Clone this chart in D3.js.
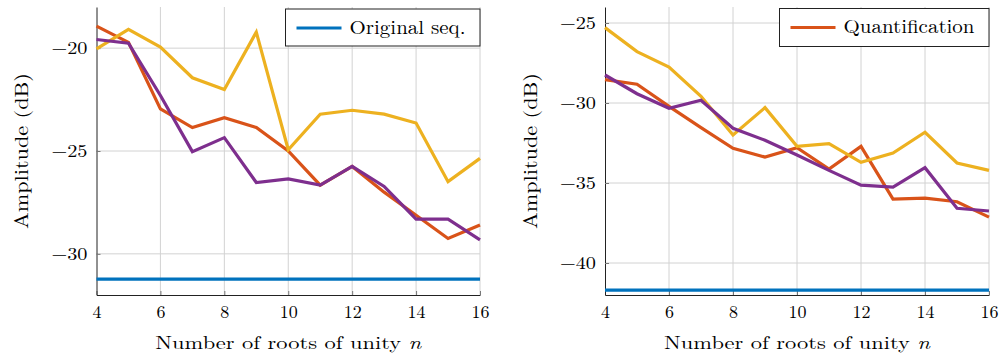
<!DOCTYPE html>
<html><head><meta charset="utf-8">
<script src="https://cdn.jsdelivr.net/npm/d3@7"></script>
<style>
html,body{margin:0;padding:0;background:#fff;}
text{font-family:"Latin Modern Roman","CMU Serif","Liberation Serif",serif;fill:#000;}
</style></head>
<body><svg id="chart" width="1004" height="361"></svg>
<script>
const nValues = [4,5,6,7,8,9,10,11,12,13,14,15,16];
const xTicks = [4,6,8,10,12,14,16];

// Left panel
const leftOriginal = [-31.23,-31.23,-31.23,-31.23,-31.23,-31.23,-31.23,-31.23,-31.23,-31.23,-31.23,-31.23,-31.23];
const leftRed    = [-18.93,-19.72,-22.95,-23.86,-23.38,-23.86,-25.0,-26.66,-25.75,-27.0,-28.12,-29.25,-28.6];
const leftYellow = [-20.03,-19.09,-19.95,-21.44,-22.01,-19.22,-24.94,-23.21,-23.02,-23.21,-23.64,-26.49,-25.36];
const leftPurple = [-19.58,-19.76,-22.3,-25.03,-24.35,-26.53,-26.36,-26.66,-25.75,-26.72,-28.31,-28.31,-29.32];
const leftYTicks = [-30,-25,-20];
const leftYDomain = [-32,-18];

// Right panel
const rightOriginal = [-41.7,-41.7,-41.7,-41.7,-41.7,-41.7,-41.7,-41.7,-41.7,-41.7,-41.7,-41.7,-41.7];
const rightRed    = [-28.54,-28.83,-30.21,-31.54,-32.83,-33.38,-32.79,-34.13,-32.71,-36.0,-35.94,-36.17,-37.13];
const rightYellow = [-25.29,-26.79,-27.75,-29.58,-32.0,-30.29,-32.71,-32.54,-33.71,-33.13,-31.83,-33.75,-34.21];
const rightPurple = [-28.25,-29.42,-30.33,-29.83,-31.58,-32.33,-33.25,-34.21,-35.13,-35.25,-34.04,-36.58,-36.75];
const rightYTicks = [-40,-35,-30,-25];
const rightYDomain = [-42,-24];

const colors = {blue:"#0072BD", red:"#D95319", yellow:"#EDB120", purple:"#7E2F8E"};

const svg = d3.select("#chart");
const fmt = v => (v < 0 ? "\u2212" + Math.abs(v) : String(v));
const FONT = '"Latin Modern Roman","CMU Serif","Liberation Serif",serif';

function panel(opts){
  const {x0, x1, y0, y1, yDomain, yTicks, series, legendLabel, legendColor, legendBox, legendTextW, yLabelX} = opts;
  const g = svg.append("g");
  const x = d3.scaleLinear().domain([4,16]).range([x0,x1]);
  const y = d3.scaleLinear().domain(yDomain).range([y1,y0]);

  // grid
  g.append("g").selectAll("line").data(xTicks.filter(d=>d!==4)).join("line")
    .attr("x1",d=>x(d)).attr("x2",d=>x(d)).attr("y1",y0).attr("y2",y1)
    .attr("stroke","#d2d2d2").attr("stroke-width",1);
  g.append("g").selectAll("line").data(yTicks).join("line")
    .attr("x1",x0).attr("x2",x1).attr("y1",d=>y(d)).attr("y2",d=>y(d))
    .attr("stroke","#d2d2d2").attr("stroke-width",1);

  // axes
  const xAxis = d3.axisBottom(x).tickValues(xTicks).tickSizeInner(-4).tickSizeOuter(0).tickFormat(d=>d);
  const ax = g.append("g").attr("transform",`translate(0,${y1})`).call(xAxis);
  ax.select(".domain").attr("stroke","#222").attr("stroke-width",1);
  ax.selectAll(".tick line").attr("stroke","#777");
  ax.selectAll("text").attr("font-size",18).style("font-family",FONT).attr("fill","#000")
    .attr("dy",null).attr("y",23);

  const yAxis = d3.axisLeft(y).tickValues(yTicks).tickSizeInner(-4).tickSizeOuter(0).tickPadding(9).tickFormat(fmt);
  const ay = g.append("g").attr("transform",`translate(${x0},0)`).call(yAxis);
  ay.select(".domain").attr("stroke","#222").attr("stroke-width",1);
  ay.selectAll(".tick line").attr("stroke","#777");
  ay.selectAll("text").attr("font-size",18).style("font-family",FONT).attr("fill","#000")
    .attr("textLength",36).attr("lengthAdjust","spacingAndGlyphs");

  // lines
  const line = d3.line().x((d,i)=>x(nValues[i])).y(d=>y(d));
  series.forEach(s=>{
    g.append("path").datum(s.values).attr("d",line)
      .attr("fill","none").attr("stroke",s.color).attr("stroke-width",3.2)
      .attr("stroke-linejoin","miter");
  });

  // titles
  const xt = g.append("text").attr("x",(x0+x1)/2).attr("y",349).attr("text-anchor","middle").attr("font-size",18)
    .attr("textLength",266).attr("lengthAdjust","spacingAndGlyphs");
  xt.append("tspan").text("Number of roots of unity ");
  xt.append("tspan").attr("font-style","italic").text("n");
  g.append("text").attr("transform",`translate(${yLabelX},${(y0+y1)/2}) rotate(-90)`)
    .attr("text-anchor","middle").attr("font-size",19)
    .attr("textLength",156).attr("lengthAdjust","spacingAndGlyphs").text("Amplitude (dB)");

  // legend
  const lb = legendBox;
  g.append("rect").attr("x",lb.x).attr("y",lb.y).attr("width",lb.w).attr("height",lb.h)
    .attr("fill","#fff").attr("stroke","#222").attr("stroke-width",1);
  g.append("line").attr("x1",lb.x+11).attr("x2",lb.x+56).attr("y1",lb.y+19).attr("y2",lb.y+19)
    .attr("stroke",legendColor).attr("stroke-width",3.2);
  g.append("text").attr("x",lb.x+64).attr("y",lb.y+24.5).attr("font-size",19)
    .attr("textLength",legendTextW).attr("lengthAdjust","spacingAndGlyphs").text(legendLabel);
}

panel({x0:96.5, x1:480, y0:7, y1:295, yDomain:leftYDomain, yTicks:leftYTicks,
  series:[{values:leftOriginal,color:colors.blue},{values:leftRed,color:colors.red},{values:leftYellow,color:colors.yellow},{values:leftPurple,color:colors.purple}],
  legendLabel:"Original seq.", legendColor:colors.blue, legendBox:{x:285.5,y:9,w:194.5,h:37}, legendTextW:116, yLabelX:28});

panel({x0:605, x1:989, y0:7, y1:295, yDomain:rightYDomain, yTicks:rightYTicks,
  series:[{values:rightOriginal,color:colors.blue},{values:rightRed,color:colors.red},{values:rightYellow,color:colors.yellow},{values:rightPurple,color:colors.purple}],
  legendLabel:"Quantification", legendColor:colors.red, legendBox:{x:779.5,y:8.5,w:209.5,h:38}, legendTextW:131, yLabelX:537});
</script></body></html>
